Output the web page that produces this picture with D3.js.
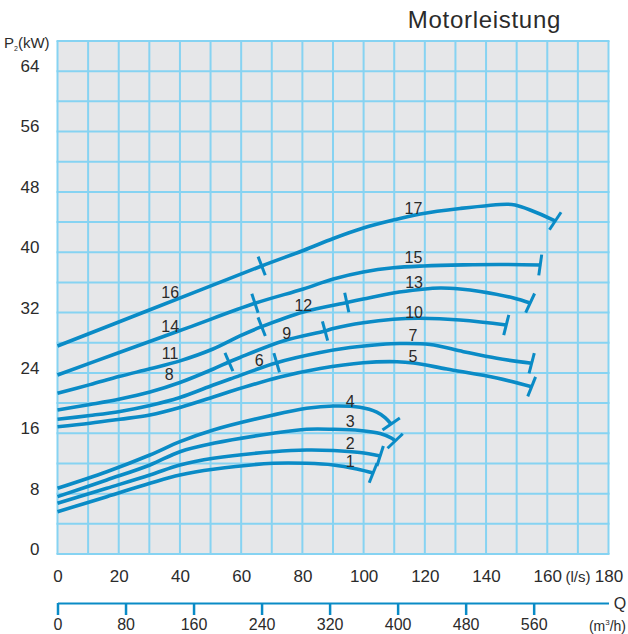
<!DOCTYPE html>
<html>
<head>
<meta charset="utf-8">
<script src="https://cdn.jsdelivr.net/npm/d3@7/dist/d3.min.js"></script>
<style>
  html, body { margin: 0; padding: 0; background: #ffffff; }
  svg { display: block; }
  text { font-family: "Liberation Sans", Arial, sans-serif; fill: #2b2b2b; }
</style>
</head>
<body>
<svg id="chart" width="628" height="634"></svg>
<script>
// Motor power P2 (kW) against flow Q (l/s), one line per pump model.
// Each line is a list of [Q l/s, P2 kW] points.
const line16_17 = [[0,27.57],[30.2,32.37],[66.7,38.18],[80.3,40.23],[90.1,41.82],[99.9,43.21],[109.7,44.27],[118.5,45.07],[131.5,45.80],[146.8,46.37],[149.5,46.26],[154.4,45.60],[162.0,44.27],[162.6,44.14]];
const line14_15 = [[0,23.73],[20.4,26.74],[42.2,29.94],[64.5,33.23],[80.3,35.13],[90.1,36.45],[99.9,37.38],[109.7,37.94],[119.6,38.18],[132.6,38.33],[144.6,38.38],[157.7,38.31]];
const line11_13 = [[0,21.30],[10.6,22.45],[20.4,23.55],[30.2,24.55],[40.0,25.60],[50.8,27.17],[59.6,28.90],[66.7,30.13],[80.3,32.08],[94.5,33.34],[99.9,33.80],[109.7,34.60],[118.5,35.06],[125.0,35.26],[131.5,35.13],[138.1,34.80],[149.0,33.93],[154.4,33.27]];
const line8_10  = [[0,19.09],[10.6,19.82],[20.4,20.55],[30.2,21.47],[40.0,22.73],[50.9,24.52],[56.0,25.45],[59.6,26.05],[73.7,28.23],[87.4,29.56],[90.1,29.89],[99.9,30.66],[109.7,31.12],[118.5,31.24],[131.5,31.02],[146.6,30.35]];
const line6_7   = [[0,17.86],[10.6,18.36],[20.4,18.90],[30.2,19.69],[40.0,20.75],[50.9,22.40],[56.4,23.20],[71.6,25.36],[85.8,26.71],[95.6,27.37],[105.4,27.77],[111.9,27.90],[121.7,27.77],[132.6,26.82],[143.5,25.94],[154.9,25.28]];
const line5     = [[0,16.87],[10.6,17.33],[20.4,17.86],[30.2,18.43],[40.0,19.42],[50.9,20.81],[56.4,21.54],[72.7,23.46],[85.8,24.59],[99.9,25.36],[110.9,25.49],[116.3,25.32],[127.2,24.52],[143.5,23.33],[154.9,22.18]];
const line4     = [[0,8.71],[16.1,10.91],[30.2,13.12],[40.0,14.89],[50.9,16.44],[70.5,18.43],[81.4,19.31],[90.1,19.62],[98.8,19.45],[104.3,18.82],[107.0,18.09],[109.0,17.23]];
const line3     = [[0,7.60],[16.1,9.81],[30.2,11.80],[40.0,13.56],[50.9,14.67],[70.5,16.00],[81.4,16.53],[90.1,16.53],[98.8,16.37],[105.4,15.97],[109.2,15.34],[110.3,14.98]];
const line2     = [[0,6.72],[16.1,8.71],[30.2,10.47],[40.0,11.80],[50.9,12.69],[70.5,13.56],[81.4,13.79],[90.1,13.72],[98.8,13.45],[105.4,12.99]];
const line1     = [[0,5.61],[16.1,7.60],[30.2,9.37],[40.0,10.47],[50.9,11.23],[70.5,12.02],[81.4,12.02],[90.1,11.80],[97.8,11.27],[103.1,10.74]];

// Flow values (l/s) where one model's range hands over to the next.
const split16_17 = [66.7];
const split14_15 = [64.5];
const split11_13 = [66.7, 94.5];
const split8_10  = [56.0, 87.4];
const split6_7   = [71.6];

// Model numbers with their label anchor [Q l/s, P2 kW].
const modelNames = ["16","17","14","15","11","12","13","8","9","10","6","7","5","4","3","2","1"];
const modelAt = [[36.8,34.6],[116.3,45.8],[36.8,30.1],[116.3,39.3],[36.8,26.6],[80.3,33.0],[116.5,36.0],[36.5,23.8],[74.9,29.2],[116.5,32.0],[65.9,25.7],[116.1,28.9],[116.1,26.2],[95.6,20.2],[95.6,17.5],[95.6,14.7],[95.6,12.2]];

// Axis ticks
const flowTicksLs  = [0,20,40,60,80,100,120,140,160,180];
const flowTicksM3h = [0,80,160,240,320,400,480,560];
const powerTicks   = [0,8,16,24,32,40,48,56,64];

const series = [
  {pts: line16_17, splits: split16_17},
  {pts: line14_15, splits: split14_15},
  {pts: line11_13, splits: split11_13},
  {pts: line8_10,  splits: split8_10},
  {pts: line6_7,   splits: split6_7},
  {pts: line5,     splits: []},
  {pts: line4,     splits: []},
  {pts: line3,     splits: []},
  {pts: line2,     splits: []},
  {pts: line1,     splits: []}
];

const svg = d3.select("#chart");
const x = d3.scaleLinear().domain([0, 180]).range([57.5, 608.5]);
const y = d3.scaleLinear().domain([0, 68]).range([554, 41]);
const xm = d3.scaleLinear().domain([0, 180 * 3.6]).range([57.5, 608.5]);

const gridColor = "#86d3f2";
const curveColor = "#0a8bc6";

// plot background and grid
svg.append("rect")
  .attr("x", x(0)).attr("y", y(68))
  .attr("width", x(180) - x(0)).attr("height", y(0) - y(68))
  .attr("fill", "#e6e7e9");

svg.append("g").selectAll("line").data(d3.range(0, 181, 10)).join("line")
  .attr("x1", d => x(d)).attr("x2", d => x(d))
  .attr("y1", y(0)).attr("y2", y(68))
  .attr("stroke", gridColor).attr("stroke-width", 2);
svg.append("g").selectAll("line").data(d3.range(0, 69, 4)).join("line")
  .attr("x1", x(0) - 1).attr("x2", x(180) + 1)
  .attr("y1", d => y(d)).attr("y2", d => y(d))
  .attr("stroke", gridColor).attr("stroke-width", 2);

// power axis labels
const yAxis = svg.append("g")
  .attr("transform", `translate(${x(0)},-5)`)
  .call(d3.axisLeft(y).tickValues(powerTicks).tickSize(0).tickPadding(18));
yAxis.select(".domain").remove();
yAxis.selectAll("text").style("font-size", "17px").attr("fill", "#2b2b2b");

// flow axis in l/s
const xAxis = svg.append("g")
  .attr("transform", `translate(0,${y(0)})`)
  .call(d3.axisBottom(x).tickValues(flowTicksLs).tickSize(0).tickPadding(16));
xAxis.select(".domain").remove();
xAxis.selectAll("text").style("font-size", "17px").attr("fill", "#2b2b2b");

svg.append("text").attr("x", 578).attr("y", 582)
  .attr("text-anchor", "middle").style("font-size", "15px").text("(l/s)");

// flow axis in m³/h
const mAxis = svg.append("g")
  .attr("transform", "translate(0,603)")
  .call(d3.axisBottom(xm).tickValues(flowTicksM3h).tickSize(12).tickSizeOuter(0).tickPadding(4));
mAxis.select(".domain").attr("stroke", curveColor).attr("stroke-width", 2);
mAxis.selectAll(".tick line").attr("stroke", curveColor).attr("stroke-width", 2.5);
mAxis.selectAll("text").style("font-size", "16px").attr("fill", "#2b2b2b");

svg.append("text").attr("x", 620).attr("y", 609)
  .attr("text-anchor", "middle").style("font-size", "16px").text("Q");
const unit = svg.append("text").attr("x", 626).attr("y", 631)
  .attr("text-anchor", "end").style("font-size", "14px");
unit.append("tspan").text("(m");
unit.append("tspan").attr("dy", -6).style("font-size", "8px").text("3");
unit.append("tspan").attr("dy", 6).text("/h)");

// titles
svg.append("text").attr("x", 561).attr("y", 28)
  .attr("text-anchor", "end").style("font-size", "24px").style("letter-spacing", "0.7px")
  .text("Motorleistung");
const pl = svg.append("text").attr("x", 4).attr("y", 48).style("font-size", "15px");
pl.append("tspan").text("P");
pl.append("tspan").attr("dy", 3).style("font-size", "7px").text("2");
pl.append("tspan").attr("dy", -3).text("(kW)");

// power curves
const lineGen = d3.line().x(d => x(d[0])).y(d => y(d[1])).curve(d3.curveCatmullRom.alpha(0.5));
const curvesG = svg.append("g");
const ticksG = svg.append("g");

// short stroke across a curve at p; tilt is measured from vertical, top leaning right
function drawTick(p, tilt, half) {
  const sx = Math.sin(tilt) * half, sy = -Math.cos(tilt) * half;
  ticksG.append("line")
    .attr("x1", p.x - sx).attr("y1", p.y - sy)
    .attr("x2", p.x + sx).attr("y2", p.y + sy)
    .attr("stroke", curveColor).attr("stroke-width", 3)
    .attr("stroke-linecap", "butt");
}

const endLean = 7 * Math.PI / 180;

series.forEach(s => {
  const path = curvesG.append("path")
    .attr("d", lineGen(s.pts))
    .attr("fill", "none").attr("stroke", curveColor)
    .attr("stroke-width", 3.6).attr("stroke-linecap", "butt");
  const node = path.node();
  const total = node.getTotalLength();
  // model hand-over ticks, square to the curve
  s.splits.forEach(q => {
    const target = x(q);
    let lo = 0, hi = total;
    for (let i = 0; i < 40; i++) {
      const mid = (lo + hi) / 2;
      if (node.getPointAtLength(mid).x < target) lo = mid; else hi = mid;
    }
    const L = (lo + hi) / 2;
    const a = node.getPointAtLength(Math.max(0, L - 2));
    const b = node.getPointAtLength(Math.min(total, L + 2));
    drawTick(node.getPointAtLength(L), Math.atan2(b.y - a.y, b.x - a.x), 10);
  });
  // end-of-range tick
  const e = node.getPointAtLength(total);
  const e0 = node.getPointAtLength(total - 4);
  drawTick(e, Math.atan2(e.y - e0.y, e.x - e0.x) + endLean, 10.5);
});

// model numbers
svg.append("g").selectAll("text").data(modelNames).join("text")
  .attr("x", (d, i) => x(modelAt[i][0]))
  .attr("y", (d, i) => y(modelAt[i][1]))
  .attr("text-anchor", "middle")
  .attr("dominant-baseline", "central")
  .style("font-size", "16px")
  .text(d => d);
</script>
</body>
</html>
